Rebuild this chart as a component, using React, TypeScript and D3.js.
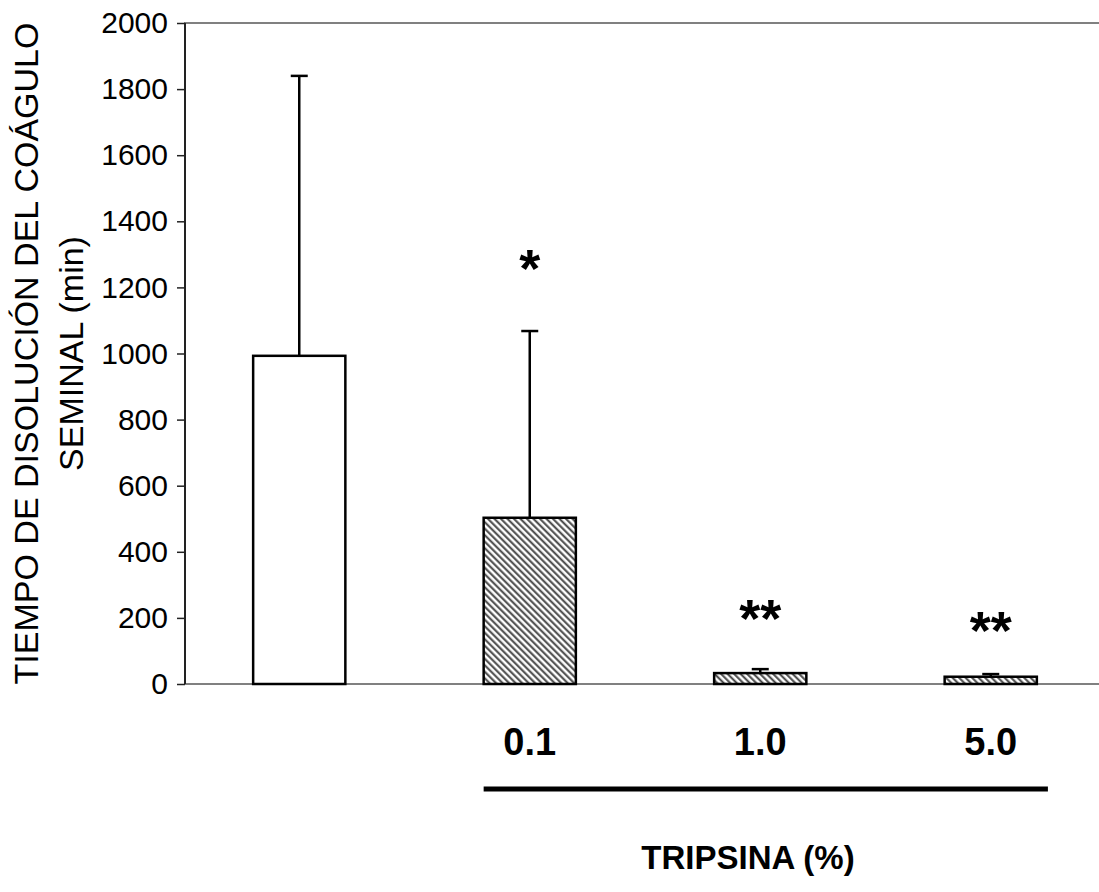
import React, { useEffect, useRef } from "react";
import * as d3 from "d3";

// bar chart: clot dissolution time vs trypsin concentration
const groups = ["control", "0.1", "1.0", "5.0"];
const groupLabels = ["", "0.1", "1.0", "5.0"];
const means = [993, 503, 33, 22];
const errTops = [1840, 1068, 45, 30];
const hatched = [false, true, true, true];
const stars = ["", "*", "**", "**"];
const starLevels = [0, 1313, 254, 215];
const yTicks = [0, 200, 400, 600, 800, 1000, 1200, 1400, 1600, 1800, 2000];

export default function App() {
  const svgRef = useRef<SVGSVGElement>(null);

  useEffect(() => {
    const w = 1099;
    const h = 892;
    const left = 184;
    const right = 1106;
    const top = 23;
    const bottom = 684;
    const starSize = 54;

    const svg = d3
      .select(svgRef.current)
      .attr("width", w)
      .attr("height", h)
      .style("background", "#fff")
      .style("font-family", "Arial, 'Liberation Sans', sans-serif");

    svg.selectAll("*").remove();

    const defs = svg.append("defs");
    const pat = defs
      .append("pattern")
      .attr("id", "hatch")
      .attr("patternUnits", "userSpaceOnUse")
      .attr("width", 4.6)
      .attr("height", 10)
      .attr("patternTransform", "rotate(-45)");
    pat.append("rect").attr("width", 4.6).attr("height", 10).attr("fill", "#fff");
    pat
      .append("line")
      .attr("x1", 1.2)
      .attr("x2", 1.2)
      .attr("y1", 0)
      .attr("y2", 10)
      .attr("stroke", "#444")
      .attr("stroke-width", 2);

    const x = d3
      .scaleBand()
      .domain(groups)
      .range([left, right])
      .paddingInner(0.6)
      .paddingOuter(0.3);

    const y = d3.scaleLinear().domain([0, 2000]).range([bottom, top]);

    // frame lines (top + baseline) in grey
    svg
      .append("line")
      .attr("x1", left)
      .attr("x2", w)
      .attr("y1", top)
      .attr("y2", top)
      .attr("stroke", "#808080")
      .attr("stroke-width", 2);
    svg
      .append("line")
      .attr("x1", left)
      .attr("x2", w)
      .attr("y1", bottom)
      .attr("y2", bottom)
      .attr("stroke", "#808080")
      .attr("stroke-width", 2);

    const yAxis = d3
      .axisLeft(y)
      .tickValues(yTicks)
      .tickSize(8)
      .tickPadding(9)
      .tickFormat(d3.format("d"));

    const gy = svg
      .append("g")
      .attr("transform", `translate(${left + 1},0)`)
      .call(yAxis);
    gy.select(".domain").attr("stroke", "#222").attr("stroke-width", 2).attr("d", `M0,${top}V${bottom}`);
    gy.selectAll(".tick line").attr("stroke", "#222").attr("stroke-width", 1.5);
    gy.selectAll(".tick text")
      .attr("font-size", 30)
      .attr("font-family", "Arial, 'Liberation Sans', sans-serif")
      .attr("fill", "#000");

    // error bars
    groups.forEach((g, i) => {
      const cx = (x(g) as number) + x.bandwidth() / 2;
      svg
        .append("line")
        .attr("x1", cx)
        .attr("x2", cx)
        .attr("y1", y(means[i]))
        .attr("y2", y(errTops[i]))
        .attr("stroke", "#000")
        .attr("stroke-width", 2.5);
      svg
        .append("line")
        .attr("x1", cx - 8.5)
        .attr("x2", cx + 8.5)
        .attr("y1", y(errTops[i]))
        .attr("y2", y(errTops[i]))
        .attr("stroke", "#000")
        .attr("stroke-width", 2.5);
    });

    // bars
    svg
      .selectAll(".bar")
      .data(groups)
      .join("rect")
      .attr("class", "bar")
      .attr("x", (d) => x(d) as number)
      .attr("width", x.bandwidth())
      .attr("y", (d, i) => y(means[i]))
      .attr("height", (d, i) => y(0) - y(means[i]))
      .attr("fill", (d, i) => (hatched[i] ? "url(#hatch)" : "#fff"))
      .attr("stroke", "#000")
      .attr("stroke-width", 2.5);

    // significance stars
    svg
      .selectAll(".star")
      .data(groups)
      .join("text")
      .attr("class", "star")
      .attr("x", (d) => (x(d) as number) + x.bandwidth() / 2)
      .attr("y", (d, i) => y(starLevels[i]) + starSize * 0.675)
      .attr("text-anchor", "middle")
      .attr("font-weight", "bold")
      .attr("font-size", starSize)
      .text((d, i) => stars[i]);

    // concentration labels
    svg
      .selectAll(".xlab")
      .data(groups)
      .join("text")
      .attr("class", "xlab")
      .attr("x", (d) => (x(d) as number) + x.bandwidth() / 2)
      .attr("y", 755)
      .attr("text-anchor", "middle")
      .attr("font-weight", "bold")
      .attr("font-size", 38)
      .text((d, i) => groupLabels[i]);

    // bracket line under trypsin groups
    svg
      .append("line")
      .attr("x1", x("0.1") as number)
      .attr("x2", (x("5.0") as number) + x.bandwidth() * 1.12)
      .attr("y1", 789)
      .attr("y2", 789)
      .attr("stroke", "#000")
      .attr("stroke-width", 5);

    svg
      .append("text")
      .attr("x", 748)
      .attr("y", 869)
      .attr("text-anchor", "middle")
      .attr("font-weight", "bold")
      .attr("font-size", 33)
      .text("TRIPSINA (%)");

    // y axis title, two lines
    const yc = (top + bottom) / 2;
    const title = svg
      .append("text")
      .attr("transform", `translate(38,${yc}) rotate(-90)`)
      .attr("text-anchor", "middle")
      .attr("font-size", 34);
    title.append("tspan").attr("x", 0).attr("y", 0).text("TIEMPO DE DISOLUCIÓN DEL COÁGULO");
    title.append("tspan").attr("x", 0).attr("y", 45).text("SEMINAL  (min)");
  }, []);

  return (
    <div>
      <svg ref={svgRef} style={{ position: "absolute", left: 0, top: 0 }}></svg>
    </div>
  );
}
